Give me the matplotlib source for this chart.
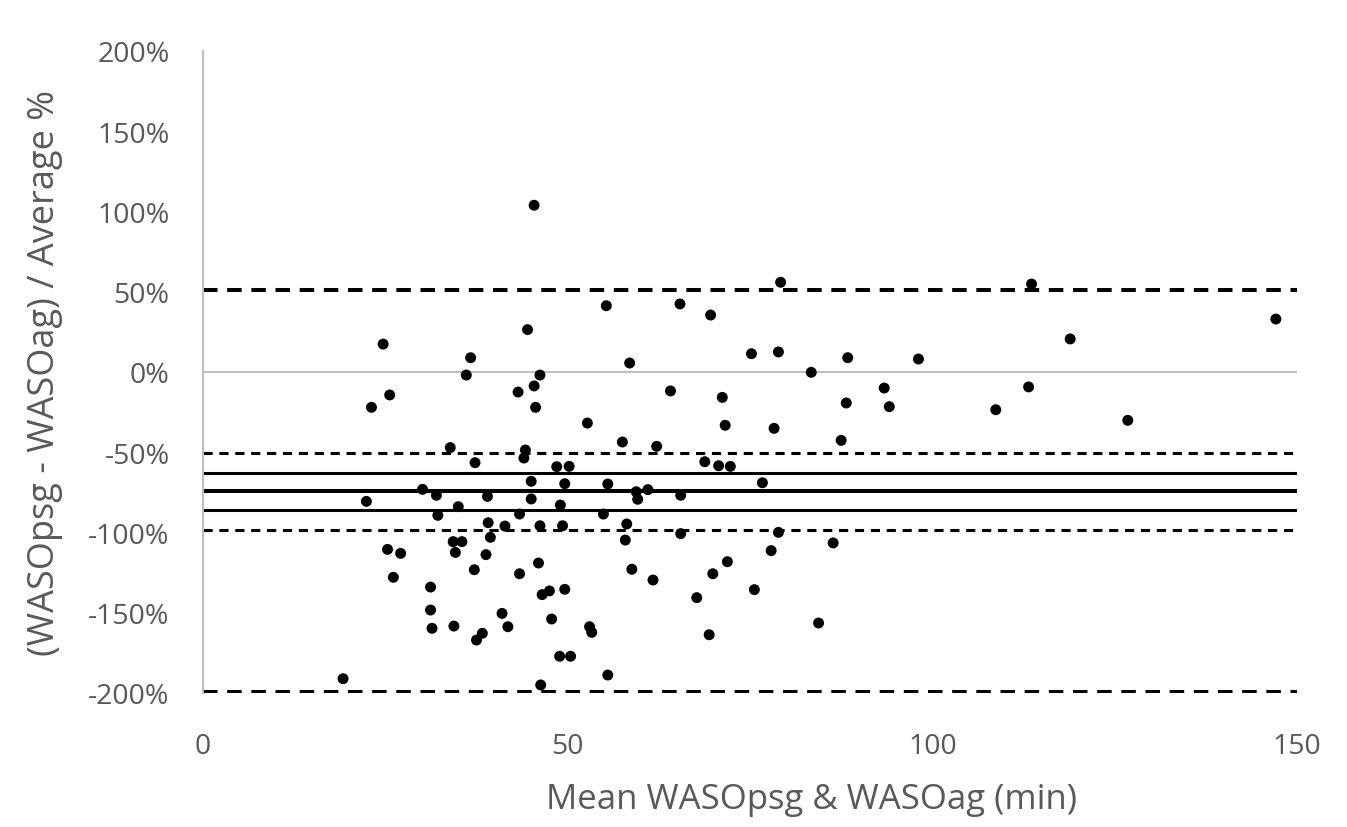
import matplotlib
matplotlib.use("Agg")
import matplotlib.pyplot as plt
from matplotlib.ticker import FuncFormatter

# Mean of the two WASO measures (min) and their relative difference (%)
mean_waso = [
    45.4, 44.5, 24.7, 36.7, 36.1, 46.2, 45.4, 43.2, 25.6, 23.1, 45.6,
    33.9, 44.2, 44.0, 37.3, 48.5, 50.2, 45.0, 49.6, 30.1, 32.0, 39.0, 45.0,
    22.4, 35.0, 49.0, 32.2, 43.4, 39.1, 41.4, 46.2, 49.3, 39.4, 34.3, 35.5,
    34.6, 25.3, 27.1, 38.8, 46.0, 26.1, 37.2, 43.4, 31.2, 46.5, 47.5, 49.6,
    31.2, 41.0, 47.8, 31.4, 34.4, 41.8, 38.3, 37.5, 48.9, 50.4, 19.2, 46.3,
    57.5, 62.2, 68.8, 70.7, 72.3, 55.5, 76.7, 59.4, 61.0, 59.6, 65.5, 54.9,
    58.1, 57.9, 65.5, 78.9, 77.9, 71.9, 69.9, 75.6, 58.8, 61.7, 67.7, 53.0,
    53.3, 69.4, 55.5,
    79.2, 55.3, 65.4, 69.6, 75.2, 78.9, 58.5, 64.1, 71.2, 52.7, 71.6, 78.3,
    113.6, 147.1, 118.9, 88.4, 98.1, 83.4, 93.4, 113.2, 88.2, 94.1, 108.7,
    126.8, 87.5, 86.4, 84.4,
]
rel_diff = [
    103.9, 26.4, 17.4, 8.9, -1.9, -1.9, -8.7, -12.5, -14.3, -22.0, -22.0,
    -47.1, -48.6, -53.6, -56.5, -59.0, -58.8, -68.1, -69.6, -73.1, -76.8,
    -77.5, -79.1, -80.6, -83.9, -82.9, -89.3, -88.5, -93.9, -96.0, -95.8,
    -95.8, -103.0, -105.7, -105.7, -112.4, -110.5, -113.0, -113.8, -119.0,
    -127.9, -123.2, -125.7, -134.0, -138.7, -136.4, -135.4, -148.3, -150.4,
    -153.9, -159.7, -158.3, -158.7, -162.8, -167.0, -177.1, -177.1, -191.1,
    -195.0,
    -43.6, -46.3, -55.9, -58.4, -58.8, -69.8, -69.0, -74.6, -73.3, -79.3,
    -76.8, -88.5, -94.7, -104.7, -100.7, -99.9, -111.3, -118.2, -125.7,
    -135.6, -122.9, -129.6, -140.6, -158.7, -162.2, -163.7, -188.8,
    55.9, 41.3, 42.4, 35.5, 11.4, 12.5, 5.6, -11.8, -15.8, -31.8, -33.2,
    -35.1,
    54.8, 33.0, 20.6, 8.9, 8.1, -0.2, -10.0, -9.3, -19.3, -21.6, -23.5,
    -30.1, -42.6, -106.5, -156.4,
]

# Bias with its confidence interval, and limits of agreement with their inner bounds
bias = -74.3
bias_ci = [-62.7, -86.0]
loa = [51.1, -199.4]
loa_inner = [-50.3, -98.6]

x_ticks = [0, 50, 100, 150]
y_ticks = [-200, -150, -100, -50, 0, 50, 100, 150, 200]

plt.rcParams["font.family"] = ["Open Sans", "DejaVu Sans"]
text_grey = "#595959"
axis_grey = "#bfbfbf"

fig = plt.figure(figsize=(13.47, 8.28), dpi=100)
ax = fig.add_axes([203 / 1347, 1 - 694 / 828, (1297 - 203) / 1347, (694 - 52) / 828])

ax.set_xlim(0, 150)
ax.set_ylim(-200, 200)

# zero line acts as the horizontal axis
ax.axhline(0, color=axis_grey, lw=1.5, zorder=1)

for v in loa:
    ax.axhline(v, color="black", lw=2.9, dashes=(3.6, 2.4), zorder=2)
for v in loa_inner:
    ax.axhline(v, color="black", lw=2.2, dashes=(3.0, 2.2), zorder=2)
for v in bias_ci:
    ax.axhline(v, color="black", lw=2.2, zorder=2)
ax.axhline(bias, color="black", lw=2.9, zorder=2)

ax.scatter(mean_waso, rel_diff, s=62, color="black", edgecolors="none", zorder=3)

ax.set_xticks(x_ticks)
ax.set_yticks(y_ticks)
ax.yaxis.set_major_formatter(FuncFormatter(lambda v, _: f"{int(v)}%"))
ax.tick_params(axis="both", length=0, labelsize=20.5, colors=text_grey)
ax.tick_params(axis="x", pad=28)
ax.tick_params(axis="y", pad=24)

for side in ("top", "right", "bottom"):
    ax.spines[side].set_visible(False)
ax.spines["left"].set_color(axis_grey)
ax.spines["left"].set_linewidth(1.5)

ax.set_xlabel("Mean WASOpsg & WASOag (min)", fontsize=25, color=text_grey, labelpad=8)
ax.xaxis.set_label_coords((811 - 203) / 1094, -0.138)
ax.set_ylabel("(WASOpsg - WASOag) / Average %", fontsize=26, color=text_grey, labelpad=18)

fig.savefig("out.png", dpi=100, facecolor="white")
